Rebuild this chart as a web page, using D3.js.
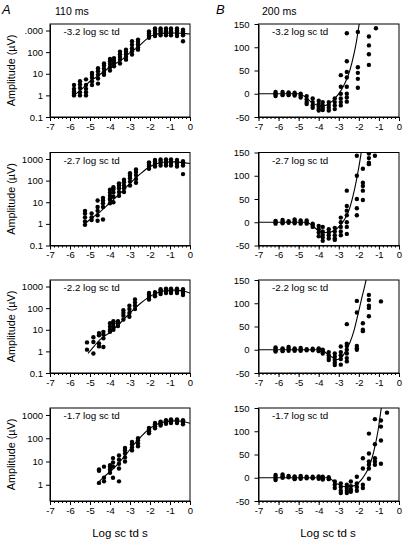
<!DOCTYPE html>
<html><head><meta charset="utf-8">
<script src="https://cdn.jsdelivr.net/npm/d3@7"></script>
<style>body{margin:0;background:#fff}svg{display:block}</style>
</head><body><svg id="c" width="404" height="542"></svg>
<script>
// ---------- axis / label data ----------
const xTickValues = [-7,-6,-5,-4,-3,-2,-1,0];
const xTickLabels = ["-7","-6","-5","-4","-3","-2","-1","0"];
const leftTickValues = [[1000,100,10,1,0.1],[1000,100,10,1,0.1],[1000,100,10,1,0.1],[1000,100,10,1]];
const leftTickLabels = [[".000","100","10","1","0.1"],["1000","100","10","1","0.1"],["1000","100","10","1","0.1"],["1000","100","10","1"]];
const logDomains = [[0.1,2000],[0.1,2000],[0.1,2000],[0.2,2000]];
const rightTickValues = [150,100,50,0,-50];
const rightTickLabels = ["150","100","50","0","-50"];
const rightDomain = [-50,150];
const intensityLabels = ["-3.2 log sc td","-2.7 log sc td","-2.2 log sc td","-1.7 log sc td"];
const panelLetters = ["A","B"];
const columnTitles = ["110 ms","200 ms"];
const yTitle = "Amplitude (\u00b5V)";
const xTitle = "Log sc td s";

// ---------- A (110 ms, log amplitude) ----------
const a1X = [-5.8,-5.5,-5.2,-4.9,-4.6,-4.3,-4.0,-3.8,-3.5,-3.2,-2.9,-2.6,-2.05,-1.75,-1.47,-1.2,-0.95,-0.65,-0.35];
const a1Y = [[1,1.2,1.5,2,3],[1,1.4,2.2,3.2,4.5],[1,1.4,2,3,5.5],[3,4.5,6.5,9,11],[3.5,6,9,13,18],[9,12,17,24,30],
  [14,20,28,38,48],[22,30,40,53],[30,45,60,80,105],[45,60,80,105,130],[77,110,150,220,320],[130,170,230,300,380],
  [460,600,750,900],[550,700,850,1000,1250],[600,750,900,1050,1250],[600,750,900,1050,1250],[600,750,900,1050,1250],
  [550,700,850,1000,1250],[320,600,750,900,1100]];
const a1CurveX = [-5.8,-5.4,-5.0,-4.6,-4.2,-3.8,-3.4,-3.0,-2.6,-2.2,-1.9,-1.6,-1.2,-0.8,-0.4,0];
const a1CurveY = [1,2,4.5,8,15,27,45,95,170,380,580,700,760,770,740,690];

const a2X = [-5.25,-4.92,-4.62,-4.35,-4.0,-3.83,-3.55,-3.3,-3.0,-2.7,-2.05,-1.75,-1.47,-1.2,-0.95,-0.65,-0.35];
const a2Y = [[0.9,1.3,2,3,4],[1.5,2,3],[1.4,2.5,4,6,12],[1.6,6,9,12,16],[9,13,15,20,28,38],[10,18,28,40,50],
  [20,30,45,60,75],[30,45,60,85,110],[60,90,130,170,220],[80,120,180,250,330],[350,450,550,700],
  [450,600,750,900],[500,650,800,950],[500,650,800,950],[500,650,800,950],[450,600,750,900],[200,500,650,800]];
const a2CurveX = [-5.35,-5.0,-4.5,-4.0,-3.5,-3.0,-2.5,-2.0,-1.6,-1.2,-0.8,-0.4,0];
const a2CurveY = [0.85,1.6,3.6,9.5,25,75,200,450,640,730,740,700,620];

const a3X = [-5.15,-4.83,-4.55,-4.33,-4.0,-3.83,-3.6,-3.33,-3.03,-2.75,-2.05,-1.75,-1.47,-1.2,-0.95,-0.65,-0.35];
const a3Y = [[1.2,2.6],[0.8,2.7,4.5],[1.7,2.3,5.5,7],[1.6,4,6,8],[8,10,14,20],[10,14,20,25],[15,20,25],
  [30,45,60,80],[40,60,90,130],[90,130,180,250],[250,330,420,500],[350,450,550],[450,550,650,750],
  [500,600,700,800],[500,600,700,800],[500,600,700,800],[400,500,600,750]];
const a3CurveX = [-5.1,-4.8,-4.5,-4.0,-3.5,-3.0,-2.5,-2.0,-1.6,-1.2,-0.8,-0.4,0];
const a3CurveY = [0.8,1.7,3.5,7.5,20,60,160,350,530,650,680,640,500];

const a4X = [-4.55,-4.3,-4.0,-3.85,-3.55,-3.25,-2.9,-2.6,-2.05,-1.75,-1.47,-1.2,-0.95,-0.65,-0.35];
const a4Y = [[1.2,4,4.5],[1.4,2,6],[3.3,4.5,6,7],[2,6,9,14],[1.4,5,8,12,18],[10,15,22,30,38],[30,40,55,70],
  [45,60,80,100],[165,200,240,280],[270,330,400,450],[350,400,480,520],[420,480,550,600],[450,520,580,650],
  [450,520,600,650],[400,480,550,600]];
const a4CurveX = [-4.65,-4.3,-4.0,-3.6,-3.2,-2.8,-2.4,-2.0,-1.6,-1.2,-0.8,-0.4,0];
const a4CurveY = [1.1,2.2,3.6,8,20,55,130,270,420,520,560,540,440];

// ---------- B (200 ms, linear amplitude) ----------
const b1X = [-6.15,-5.8,-5.5,-5.2,-4.9,-4.6,-4.3,-4.0,-3.8,-3.5,-3.2,-2.9,-2.6,-2.05,-1.5,-1.15];
const b1Y = [[4,1,-2,-5],[4,0,-3],[3,0,-3],[2,-1,-4],[0,-4,-8],[-5,-12,-18,-22],[-10,-18,-25,-30],
  [-15,-22,-28,-33,-36],[-18,-25,-30,-35],[-18,-24,-30,-36],[-10,-18,-25,-33],[40,15,0,-10,-18,-25],
  [130,70,47,35,15,0,-8,-17],[133,57,45,32,13],[123,104,85,62],[141]];
const b1CurveX = [-7,-5.0,-4.7,-4.4,-4.1,-3.85,-3.6,-3.35,-3.15,-2.95,-2.75,-2.55,-2.35,-2.15,-1.95];
const b1CurveY = [0,0,-6,-17,-24,-26,-24,-17,-8,3,18,37,66,105,160];

const b2X = [-6.15,-5.8,-5.5,-5.2,-4.9,-4.6,-4.3,-4.0,-3.8,-3.5,-3.2,-2.9,-2.6,-2.1,-1.8,-1.5,-1.2];
const b2Y = [[3,0,-3],[5,1,-2],[2,-1],[6,2,-2],[4,0,-3],[4,0,-3],[-3,-6,-10],[-8,-15,-22,-30],
  [-10,-20,-27,-33,-40],[-15,-22,-28,-35],[-12,-20,-28,-35,-38],[10,0,-10,-20,-28],[68,35,25,15,0,-10,-25],
  [143,100,50,30,15],[115,85,78,68,48],[148,138,128,125],[143]];
const b2CurveX = [-7,-4.6,-4.3,-4.0,-3.7,-3.4,-3.1,-2.9,-2.7,-2.5,-2.3,-2.1,-1.9,-1.8];
const b2CurveY = [0,0,-8,-18,-22,-21,-14,-5,7,25,55,95,145,175];

const b3X = [-6.15,-5.8,-5.5,-5.2,-4.9,-4.6,-4.3,-4.0,-3.8,-3.5,-3.2,-2.9,-2.6,-2.1,-1.8,-1.5,-0.9];
const b3Y = [[5,2,-2,-4],[3,0,-3],[6,2,-2],[3,0,-2],[4,0,-2],[1,-1],[2,-1],[3,0,-3],[0,-3,-8],
  [-5,-12,-18,-22],[-8,-15,-22,-28,-33],[7,-5,-12,-20,-32],[55,13,8,0,-8,-18,-25],[105,80,8,3,0],
  [57,43,40],[118,107,95,90,72],[104]];
const b3CurveX = [-7,-3.9,-3.6,-3.3,-3.05,-2.85,-2.65,-2.45,-2.25,-2.05,-1.85,-1.65,-1.55];
const b3CurveY = [0,0,-8,-17,-21,-16,-2,15,40,75,112,148,170];

const b4X = [-6.15,-5.8,-5.5,-5.2,-4.9,-4.6,-4.3,-4.0,-3.8,-3.5,-3.2,-2.9,-2.6,-2.4,-2.1,-1.8,-1.5,-1.2,-0.9,-0.6];
const b4Y = [[6,2,-2,-5],[7,3,0],[4,1],[3,-1,-3],[4,0,-2],[2,-1],[2,-1],[3,-2],[2,-2,-4],[1,-3],
  [-8,-15,-22],[-12,-20,-28,-33],[-15,-22,-28,-33],[-8,-18,-25,-30],[2,-12,-20,-28],[42,20,-15,-22],
  [95,52,35,28,20,-2],[126,72,42,35,28],[123,110,80,30],[140]];
const b4CurveX = [-7,-3.5,-3.2,-2.9,-2.6,-2.3,-2.05,-1.85,-1.65,-1.45,-1.25,-1.05,-0.9,-0.8];
const b4CurveY = [0,0,-10,-17,-19,-18,-12,-3,10,28,58,100,145,175];

const leftPanels = [
  {x:a1X,y:a1Y,cx:a1CurveX,cy:a1CurveY},{x:a2X,y:a2Y,cx:a2CurveX,cy:a2CurveY},
  {x:a3X,y:a3Y,cx:a3CurveX,cy:a3CurveY},{x:a4X,y:a4Y,cx:a4CurveX,cy:a4CurveY}];
const rightPanels = [
  {x:b1X,y:b1Y,cx:b1CurveX,cy:b1CurveY},{x:b2X,y:b2Y,cx:b2CurveX,cy:b2CurveY},
  {x:b3X,y:b3Y,cx:b3CurveX,cy:b3CurveY},{x:b4X,y:b4Y,cx:b4CurveX,cy:b4CurveY}];

// ---------- drawing ----------
const FONT = "'Liberation Sans', Arial, sans-serif";
const svg = d3.select("#c");
const tops = [24,152.5,280,408];
const ph = 93;
const xL = d3.scaleLinear().domain([-7,0]).range([50,190]);
const xR = d3.scaleLinear().domain([-7,0]).range([258.5,399]);
const minorTicks = d3.range(-70,1,2).map(d=>d/10);

function styleAxis(g, fs){
  g.selectAll("text").attr("font-family",FONT).attr("font-size",fs).attr("fill","#000");
  g.selectAll("line,path").attr("stroke","#000").attr("stroke-width",1);
}

function xAxis(x, y){
  const gm = svg.append("g").attr("transform",`translate(0,${y})`)
    .call(d3.axisBottom(x).tickValues(minorTicks).tickSize(2).tickSizeOuter(0).tickFormat(""));
  gm.select(".domain").remove(); styleAxis(gm,9);
  const g = svg.append("g").attr("transform",`translate(0,${y})`)
    .call(d3.axisBottom(x).tickValues(xTickValues).tickSize(4).tickSizeOuter(0).tickPadding(2)
      .tickFormat((d,i)=>xTickLabels[i]));
  styleAxis(g,9.5);
}

function panel(i, side){
  const top = tops[i], bot = top+ph;
  const x = side===0 ? xL : xR;
  const P = side===0 ? leftPanels[i] : rightPanels[i];
  const y = side===0 ? d3.scaleLog().domain(logDomains[i]).range([bot,top])
                     : d3.scaleLinear().domain(rightDomain).range([bot,top]);
  const id = `clip${side}${i}`;
  svg.append("clipPath").attr("id",id).append("rect")
    .attr("x",x.range()[0]).attr("y",top).attr("width",x.range()[1]-x.range()[0]).attr("height",ph);
  const g = svg.append("g").attr("clip-path",`url(#${id})`);
  const pts = P.cx.map((v,k)=>[v,P.cy[k]]);
  g.append("path").datum(pts)
    .attr("d", d3.line().x(d=>x(d[0])).y(d=>y(d[1])).curve(d3.curveMonotoneX))
    .attr("fill","none").attr("stroke","#000").attr("stroke-width",1.1);
  const dots = [];
  P.x.forEach((xv,k)=>P.y[k].forEach(yv=>dots.push([xv,yv])));
  g.selectAll("circle").data(dots).enter().append("circle")
    .attr("cx",d=>x(d[0])).attr("cy",d=>y(d[1])).attr("r",2.2).attr("fill","#000");
  svg.append("rect").attr("x",x.range()[0]).attr("y",top)
    .attr("width",x.range()[1]-x.range()[0]).attr("height",ph)
    .attr("fill","none").attr("stroke","#000").attr("stroke-width",1);
  const ax = side===0
    ? d3.axisLeft(y).tickValues(leftTickValues[i]).tickFormat((d,k)=>leftTickLabels[i][k]).tickSize(4).tickSizeOuter(0).tickPadding(3)
    : d3.axisLeft(y).tickValues(rightTickValues).tickFormat((d,k)=>rightTickLabels[k]).tickSize(4).tickSizeOuter(0).tickPadding(5);
  const ga = svg.append("g").attr("transform",`translate(${x.range()[0]},0)`).call(ax);
  styleAxis(ga,9.5);
  xAxis(x, bot);
  svg.append("text").attr("x",x.range()[0]+13.5).attr("y",top+11)
    .attr("font-family",FONT).attr("font-size",9.8).text(intensityLabels[i]);
  if(side===0){
    svg.append("text").attr("transform",`translate(15,${top+ph/2}) rotate(-90)`)
      .attr("text-anchor","middle").attr("font-family",FONT).attr("font-size",10.8).text(yTitle);
  }
}

for(let i=0;i<4;i++){ panel(i,0); panel(i,1); }

svg.append("text").attr("x",2).attr("y",14).attr("font-family",FONT).attr("font-size",13)
  .attr("font-style","italic").text(panelLetters[0]);
svg.append("text").attr("x",216).attr("y",14).attr("font-family",FONT).attr("font-size",13)
  .attr("font-style","italic").text(panelLetters[1]);
svg.append("text").attr("x",55).attr("y",15).attr("font-family",FONT).attr("font-size",10.5).text(columnTitles[0]);
svg.append("text").attr("x",262).attr("y",15).attr("font-family",FONT).attr("font-size",10.5).text(columnTitles[1]);
svg.append("text").attr("x",120).attr("y",537).attr("text-anchor","middle")
  .attr("font-family",FONT).attr("font-size",11.5).text(xTitle);
svg.append("text").attr("x",328).attr("y",537).attr("text-anchor","middle")
  .attr("font-family",FONT).attr("font-size",11.5).text(xTitle);
</script></body></html>
